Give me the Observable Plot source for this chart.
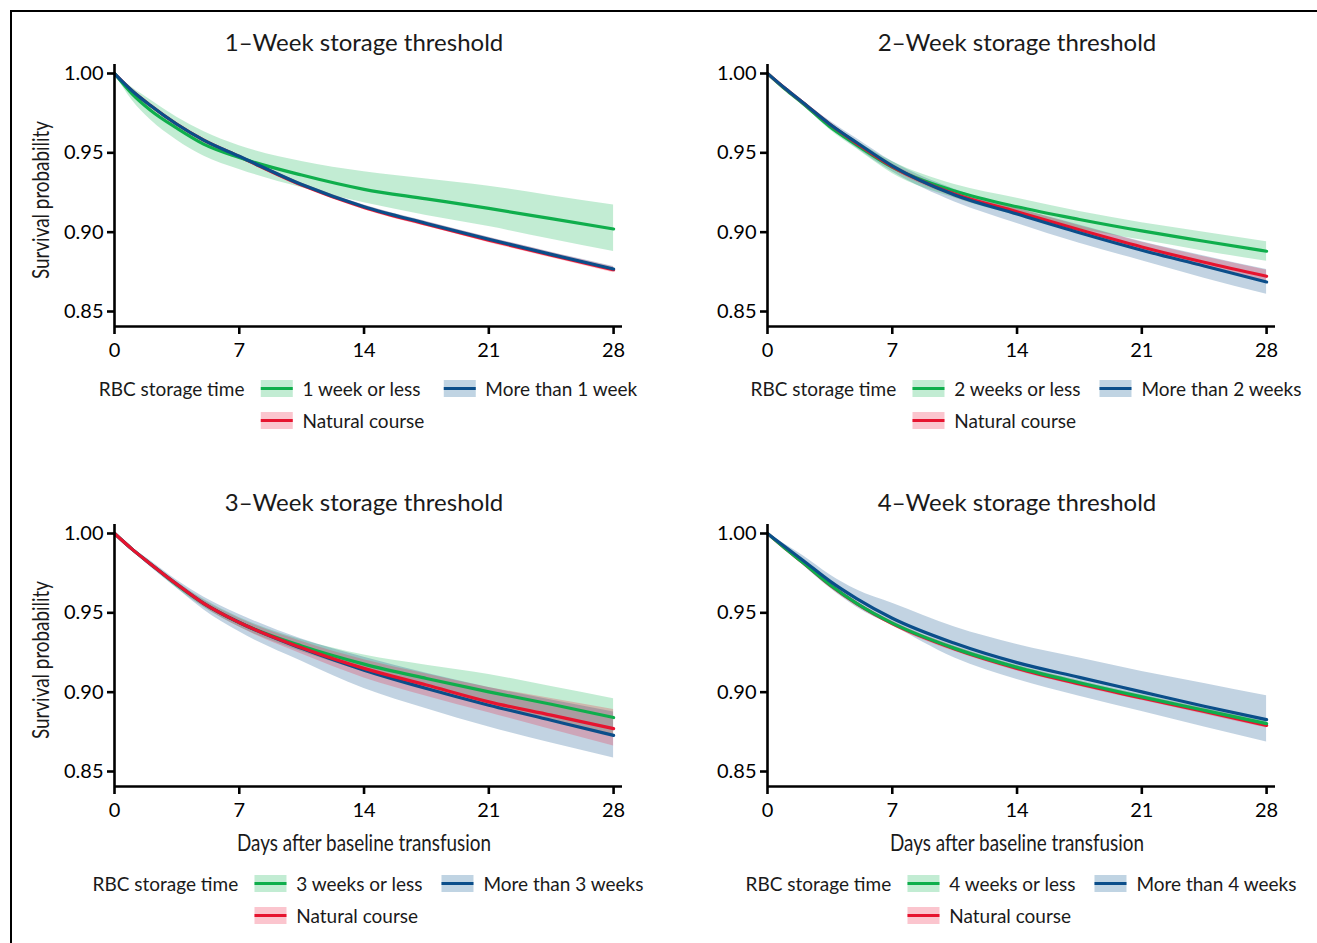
<!DOCTYPE html>
<html>
<head>
<meta charset="utf-8">
<script src="https://cdn.jsdelivr.net/npm/d3@7"></script>
<script src="https://cdn.jsdelivr.net/npm/@observablehq/plot@0.6"></script>
<style>
  html, body { margin: 0; padding: 0; background: #fff; }
  #page { position: relative; width: 1317px; height: 943px; overflow: hidden; font-family: Lato, "Open Sans", sans-serif; color: #1a1a1a; }
  #frame { position: absolute; left: 10px; top: 10px; width: 1400px; height: 1000px; border-top: 2.5px solid #000; border-left: 2.5px solid #000; }
  .svgwrap { position: absolute; }
  .ptitle { position: absolute; font-size: 24px; line-height: 28px; white-space: nowrap; transform: translateX(-50%); }
  .xtitle, .ytitle { position: absolute; font-family: Lato, "Open Sans", sans-serif; font-size: 23px; line-height: 26px; white-space: nowrap; }
  .xtitle { transform: translateX(-50%) scaleX(0.82); }
  .ytitle { transform: translate(-50%, -50%) rotate(-90deg) scaleX(0.82); }
  .legend { position: absolute; transform: translateX(-50%); display: grid; grid-template-columns: auto auto auto auto auto; grid-auto-rows: 32px; align-items: center; font-size: 19px; white-space: nowrap; }
  .legend .lt { margin-right: 16px; }
  .legend .lab { margin-left: 10px; margin-right: 19px; }
  .legend .lab.last { margin-right: 0; }
  .sw { position: relative; width: 32px; height: 17px; }
  .sw .band { position: absolute; left: 0; top: 0; width: 32px; height: 17px; }
  .sw .ln { position: absolute; left: 0; top: 7px; width: 32px; height: 3px; }
</style>
</head>
<body>
<div id="page"><div id="frame"></div></div>
<script>
// ---------------- data ----------------
const days = [0, 1, 2, 3.5, 5, 7, 10.5, 14, 17.5, 21, 24.5, 28];
const xTicks = [0, 7, 14, 21, 28];
const yTicks = [0.85, 0.90, 0.95, 1.00];

const panelTitles = ["1\u2013Week storage threshold", "2\u2013Week storage threshold", "3\u2013Week storage threshold", "4\u2013Week storage threshold"];
const shortLabels = ["1 week or less", "2 weeks or less", "3 weeks or less", "4 weeks or less"];
const longLabels = ["More than 1 week", "More than 2 weeks", "More than 3 weeks", "More than 4 weeks"];
const naturalLabel = "Natural course";
const legendTitle = "RBC storage time";
const yTitle = "Survival probability";
const xTitle = "Days after baseline transfusion";

// Panel 1: 1-week threshold
const w1Short   = [1, 0.987, 0.977, 0.9655, 0.9555, 0.947, 0.936, 0.927, 0.921, 0.915, 0.9085, 0.902];
const w1ShortLo = [1, 0.983, 0.971, 0.958, 0.948, 0.9395, 0.928, 0.9185, 0.9105, 0.9035, 0.8955, 0.8878];
const w1ShortHi = [1, 0.991, 0.9835, 0.9725, 0.9635, 0.9545, 0.9445, 0.938, 0.9335, 0.929, 0.923, 0.9172];
const w1Long    = [1, 0.989, 0.980, 0.968, 0.958, 0.9478, 0.930, 0.916, 0.9055, 0.8955, 0.886, 0.8768];
const w1LongLo  = [1, 0.9885, 0.9794, 0.9672, 0.9571, 0.9468, 0.929, 0.9149, 0.9043, 0.8942, 0.8846, 0.8753];
const w1LongHi  = [1, 0.9895, 0.9806, 0.9688, 0.9589, 0.9488, 0.931, 0.9171, 0.9067, 0.8968, 0.8874, 0.8783];
const w1Nat     = [1, 0.989, 0.980, 0.968, 0.958, 0.9476, 0.9297, 0.9156, 0.905, 0.895, 0.8855, 0.8763];
const w1NatLo   = [1, 0.9884, 0.9792, 0.967, 0.9569, 0.9464, 0.9284, 0.9142, 0.9035, 0.8934, 0.8838, 0.8745];
const w1NatHi   = [1, 0.9896, 0.9808, 0.969, 0.9591, 0.9488, 0.931, 0.917, 0.9065, 0.8966, 0.8872, 0.8781];

// Panel 2: 2-week threshold
const w2Short   = [1, 0.990, 0.981, 0.9665, 0.955, 0.941, 0.926, 0.916, 0.908, 0.9008, 0.8943, 0.888];
const w2ShortLo = [1, 0.9895, 0.980, 0.9645, 0.9525, 0.937, 0.9215, 0.9105, 0.902, 0.895, 0.888, 0.8817];
const w2ShortHi = [1, 0.9905, 0.982, 0.9685, 0.9575, 0.9445, 0.930, 0.9213, 0.913, 0.906, 0.900, 0.894];
const w2Long    = [1, 0.9905, 0.9815, 0.968, 0.9565, 0.9418, 0.9234, 0.9114, 0.8996, 0.8886, 0.8787, 0.8686];
const w2LongLo  = [1, 0.990, 0.980, 0.9656, 0.953, 0.938, 0.919, 0.9055, 0.893, 0.882, 0.871, 0.8608];
const w2LongHi  = [1, 0.991, 0.9825, 0.970, 0.959, 0.9445, 0.927, 0.915, 0.9045, 0.894, 0.885, 0.8764];
const w2Nat     = [1, 0.9905, 0.9815, 0.968, 0.956, 0.9413, 0.924, 0.9129, 0.9015, 0.8907, 0.881, 0.8722];
const w2NatLo   = [1, 0.990, 0.981, 0.967, 0.955, 0.9396, 0.922, 0.9108, 0.899, 0.8877, 0.8775, 0.8686];
const w2NatHi   = [1, 0.991, 0.982, 0.969, 0.957, 0.943, 0.926, 0.915, 0.904, 0.8937, 0.8845, 0.876];

// Panel 3: 3-week threshold
const w3Short   = [1, 0.990, 0.981, 0.9677, 0.956, 0.9439, 0.9291, 0.9177, 0.9086, 0.9002, 0.8924, 0.884];
const w3ShortLo = [1, 0.9895, 0.980, 0.9655, 0.9535, 0.941, 0.9255, 0.913, 0.902, 0.8915, 0.8825, 0.873];
const w3ShortHi = [1, 0.9905, 0.982, 0.9695, 0.9585, 0.947, 0.933, 0.9234, 0.917, 0.9112, 0.9035, 0.8958];
const w3Long    = [1, 0.990, 0.981, 0.968, 0.956, 0.9439, 0.9276, 0.9139, 0.9023, 0.8918, 0.8823, 0.8728];
const w3LongLo  = [1, 0.989, 0.979, 0.9655, 0.952, 0.938, 0.9195, 0.9023, 0.8895, 0.878, 0.868, 0.8585];
const w3LongHi  = [1, 0.991, 0.983, 0.9705, 0.960, 0.949, 0.9335, 0.922, 0.912, 0.903, 0.895, 0.8875];
const w3Nat     = [1, 0.990, 0.981, 0.968, 0.956, 0.9439, 0.928, 0.915, 0.9045, 0.8939, 0.8855, 0.877];
const w3NatLo   = [1, 0.9895, 0.980, 0.9665, 0.954, 0.941, 0.924, 0.909, 0.8975, 0.887, 0.8765, 0.866];
const w3NatHi   = [1, 0.9905, 0.982, 0.9695, 0.958, 0.9465, 0.932, 0.9205, 0.9115, 0.903, 0.896, 0.889];

// Panel 4: 4-week threshold
const w4Short   = [1, 0.9905, 0.9815, 0.9677, 0.956, 0.9435, 0.9276, 0.9156, 0.9059, 0.897, 0.8886, 0.8802];
const w4ShortLo = [1, 0.9900, 0.9808, 0.9667, 0.9549, 0.9423, 0.9263, 0.9143, 0.9046, 0.8957, 0.8872, 0.8788];
const w4ShortHi = [1, 0.9910, 0.9822, 0.9687, 0.9571, 0.9447, 0.9289, 0.9169, 0.9072, 0.8983, 0.89, 0.8816];
const w4Long    = [1, 0.9915, 0.983, 0.970, 0.959, 0.9466, 0.9308, 0.9186, 0.9093, 0.9002, 0.8911, 0.8827];
const w4LongLo  = [1, 0.990, 0.980, 0.9656, 0.9535, 0.942, 0.9215, 0.908, 0.8975, 0.8878, 0.878, 0.8686];
const w4LongHi  = [1, 0.993, 0.986, 0.974, 0.9645, 0.956, 0.941, 0.930, 0.9215, 0.9131, 0.9055, 0.8977];
const w4Nat     = [1, 0.9905, 0.9815, 0.9675, 0.9558, 0.9432, 0.9272, 0.915, 0.9052, 0.8963, 0.8878, 0.8791];
const w4NatLo   = [1, 0.9898, 0.9805, 0.9662, 0.9544, 0.9417, 0.9256, 0.9134, 0.9036, 0.8947, 0.8861, 0.8774];
const w4NatHi   = [1, 0.9912, 0.9825, 0.9688, 0.9572, 0.9447, 0.9288, 0.9166, 0.9068, 0.8979, 0.8895, 0.8808];

// ---------------- styling ----------------
const lineColor = { short: "#0fae4c", long: "#0b4e8a", nat: "#e6142f" };
const bandBase  = { short: "#0cb44f", long: "#0a508c", nat: "#ee1e3e" };
const bandOpacity = 0.25;
const swatchFill = { short: "#c2ecd3", long: "#c0d4e3", nat: "#fbc5ce" };

const panels = [
  { x0: 114, y1: 73, title: panelTitles[0], shortLab: shortLabels[0], longLab: longLabels[0],
    s: { short: w1Short, shortLo: w1ShortLo, shortHi: w1ShortHi, long: w1Long, longLo: w1LongLo, longHi: w1LongHi, nat: w1Nat, natLo: w1NatLo, natHi: w1NatHi },
    bandOrder: ["short", "long", "nat"], lineOrder: ["nat", "short", "long"], yTitle: true, xTitle: false, legendCx: 368 },
  { x0: 767, y1: 73, title: panelTitles[1], shortLab: shortLabels[1], longLab: longLabels[1],
    s: { short: w2Short, shortLo: w2ShortLo, shortHi: w2ShortHi, long: w2Long, longLo: w2LongLo, longHi: w2LongHi, nat: w2Nat, natLo: w2NatLo, natHi: w2NatHi },
    bandOrder: ["long", "short", "nat"], lineOrder: ["short", "nat", "long"], yTitle: false, xTitle: false, legendCx: 1026 },
  { x0: 114, y1: 533, title: panelTitles[2], shortLab: shortLabels[2], longLab: longLabels[2],
    s: { short: w3Short, shortLo: w3ShortLo, shortHi: w3ShortHi, long: w3Long, longLo: w3LongLo, longHi: w3LongHi, nat: w3Nat, natLo: w3NatLo, natHi: w3NatHi },
    bandOrder: ["short", "long", "nat"], lineOrder: ["short", "long", "nat"], yTitle: true, xTitle: true, legendCx: 368 },
  { x0: 767, y1: 533, title: panelTitles[3], shortLab: shortLabels[3], longLab: longLabels[3],
    s: { short: w4Short, shortLo: w4ShortLo, shortHi: w4ShortHi, long: w4Long, longLo: w4LongLo, longHi: w4LongHi, nat: w4Nat, natLo: w4NatLo, natHi: w4NatHi },
    bandOrder: ["long", "short", "nat"], lineOrder: ["nat", "short", "long"], yTitle: false, xTitle: true, legendCx: 1021 }
];

const xDomain = [0, 28.5];
const yDomain = [0.84055, 1.00567];
const page = document.getElementById("page");

function el(cls, text, css) {
  const d = document.createElement("div");
  d.className = cls;
  if (text != null) d.textContent = text;
  Object.assign(d.style, css || {});
  page.appendChild(d);
  return d;
}

function swatch(key) {
  const w = document.createElement("div");
  w.className = "sw";
  const b = document.createElement("div"); b.className = "band"; b.style.background = swatchFill[key];
  const l = document.createElement("div"); l.className = "ln"; l.style.background = lineColor[key];
  w.appendChild(b); w.appendChild(l);
  return w;
}

for (const p of panels) {
  const rows = days.map((d, i) => {
    const r = { day: d };
    for (const k of Object.keys(p.s)) r[k] = p.s[k][i];
    return r;
  });
  const marks = [];
  for (const k of p.bandOrder) {
    marks.push(Plot.areaY(rows, { x: "day", y1: k + "Lo", y2: k + "Hi", fill: bandBase[k], fillOpacity: bandOpacity, curve: "monotone-x" }));
  }
  for (const k of p.lineOrder) {
    marks.push(Plot.line(rows, { x: "day", y: k, stroke: lineColor[k], strokeWidth: 3.2, curve: "monotone-x" }));
  }
  marks.push(Plot.ruleX([xDomain[0]], { stroke: "#000", strokeWidth: 2.6 }));
  marks.push(Plot.ruleY([yDomain[0]], { stroke: "#000", strokeWidth: 2.6 }));
  marks.push(Plot.axisX({ ticks: xTicks, tickSize: 8, tickPadding: 8, strokeWidth: 2.6, color: "#000", label: null, tickFormat: d => String(d) }));
  marks.push(Plot.axisY({ ticks: yTicks, tickSize: 7, tickPadding: 4, strokeWidth: 2.6, color: "#000", label: null, tickFormat: d => d.toFixed(2) }));

  const svg = Plot.plot({
    width: 660, height: 320,
    marginLeft: 114, marginRight: 38, marginTop: 19, marginBottom: 39,
    x: { domain: xDomain, label: null },
    y: { domain: yDomain, label: null },
    style: { fontFamily: "Lato, 'Open Sans', sans-serif", fontSize: "20px", color: "#1a1a1a", background: "transparent", overflow: "visible" },
    marks
  });
  const wrap = el("svgwrap", null, { left: (p.x0 - 114) + "px", top: (p.y1 - 28) + "px" });
  wrap.appendChild(svg);

  el("ptitle", p.title, { left: (p.x0 + 250) + "px", top: (p.y1 - 31 - 14) + "px" });
  if (p.yTitle) el("ytitle", yTitle, { left: "40px", top: (p.y1 + 127) + "px" });
  if (p.xTitle) el("xtitle", xTitle, { left: (p.x0 + 250) + "px", top: (p.y1 + 309 - 13) + "px" });

  const rowCenter = p.y1 + (p.xTitle ? 350 : 315);
  const lg = el("legend", null, { left: p.legendCx + "px", top: (rowCenter - 16) + "px" });
  const t = document.createElement("div"); t.className = "lt"; t.textContent = legendTitle; lg.appendChild(t);
  lg.appendChild(swatch("short"));
  const l1 = document.createElement("div"); l1.className = "lab"; l1.textContent = p.shortLab; lg.appendChild(l1);
  lg.appendChild(swatch("long"));
  const l2 = document.createElement("div"); l2.className = "lab last"; l2.textContent = p.longLab; lg.appendChild(l2);
  lg.appendChild(document.createElement("div"));
  lg.appendChild(swatch("nat"));
  const l3 = document.createElement("div"); l3.className = "lab"; l3.textContent = naturalLabel; lg.appendChild(l3);
}
</script>
</body>
</html>
